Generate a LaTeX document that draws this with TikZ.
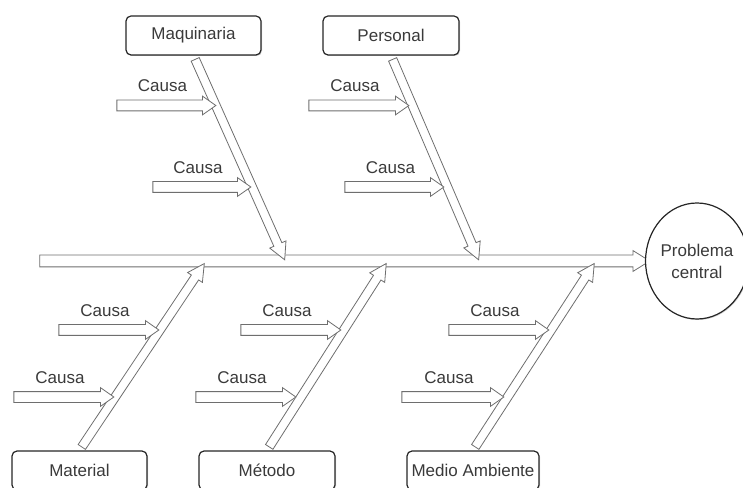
\documentclass[tikz,border=0pt]{standalone}
\usepackage{fontspec}
\setmainfont{Liberation Sans}
\usepackage{tikz}
\usepackage{tkz-euclide}
\usetikzlibrary{calc,shapes.arrows,shapes.geometric,shadows}
\pgfdeclarelayer{bg}
\pgfsetlayers{bg,main}

\definecolor{trazo}{HTML}{6E6E6E}
\definecolor{texto}{HTML}{3A3A3A}

\tikzset{
  flecha/.style={single arrow, draw=trazo, fill=white, line width=0.8pt,
    inner xsep=0pt, inner ysep=5pt, single arrow head extend=4pt,
    single arrow tip angle=70},
  espina/.style={flecha, inner ysep=5.5pt, single arrow head extend=4.5pt,
    single arrow tip angle=64},
  rama/.style={flecha, inner ysep=4pt, single arrow head extend=4.5pt,
    single arrow tip angle=56},
  caja/.style={draw=black!85, line width=1.2pt, rounded corners=5pt,
    fill=white, minimum height=39pt, inner xsep=2pt, text=texto,
    font=\fontsize{17}{20}\selectfont,
    drop shadow={shadow xshift=1pt, shadow yshift=-1pt, opacity=0.35}},
  problema/.style={ellipse, draw=black!85, line width=1.2pt, fill=white,
    minimum width=102pt, minimum height=116pt, inner sep=0pt,
    align=center, text=texto, font=\fontsize{17}{22}\selectfont,
    drop shadow={shadow xshift=1pt, shadow yshift=-1pt, opacity=0.35}},
  etiqueta/.style={text=texto, font=\fontsize{17}{20}\selectfont, inner sep=0pt}
}

\newcommand{\flecha}[3][flecha]{%
  \path let \p1=($(#3)-(#2)$), \n1={atan2(\y1,\x1)}, \n2={veclen(\x1,\y1)} in
    node[#1, minimum height=\n2, rotate=\n1] at ($(#2)!0.5!(#3)$) {};}

\begin{document}
\begin{tikzpicture}[x=1pt,y=1pt]
  \useasboundingbox (0,0) rectangle (743,487);
  \clip (0,0) rectangle (743,487);

  % centros de las cajas y espina
  \tkzDefPoints{193.5/451.5/CM, 391/451.5/CP, 79.5/16.5/CT, 267/16.5/CD, 473/16.5/CE}
  \tkzDefPoints{35/226/S, 697/226/CC}
  \tkzDefPoints{283/231/TM, 477/231/TP, 202/220/BT, 384/220/BD, 592/220/BE}

  % causas arriba
  \tkzDefPoint(113,381.5){M1a}
  \tkzDefPoint(212,381.5){M1b}
  \tkzDefPoint(149,300){M2a}
  \tkzDefPoint(247,300){M2b}
  \tkzDefPoint(305,381.5){P1a}
  \tkzDefPoint(405,381.5){P1b}
  \tkzDefPoint(341,300){P2a}
  \tkzDefPoint(440,300){P2b}

  % causas abajo
  \tkzDefPoint(55,157){T1a}
  \tkzDefPoint(155,157){T1b}
  \tkzDefPoint(10,90){T2a}
  \tkzDefPoint(110,90){T2b}
  \tkzDefPoint(237,157){D1a}
  \tkzDefPoint(337,157){D1b}
  \tkzDefPoint(192,90){D2a}
  \tkzDefPoint(292,90){D2b}
  \tkzDefPoint(445,157){E1a}
  \tkzDefPoint(545,157){E1b}
  \tkzDefPoint(398,90){E2a}
  \tkzDefPoint(500,90){E2b}

  \node[caja, minimum width=135pt] (maq) at (CM) {Maquinaria};
  \node[caja, minimum width=136pt] (per) at (CP) {Personal};
  \node[caja, minimum width=135pt] (mat) at (CT) {Material};
  \node[caja, minimum width=136pt] (met) at (CD) {Método};
  \node[caja, minimum width=132pt] (amb) at (CE) {Medio Ambiente};
  \node[problema] (prob) at (CC) {Problema\\central};

  \begin{pgfonlayer}{bg}
    \flecha[espina]{S}{prob.west}

    \flecha[rama]{maq.south}{TM}
    \flecha[rama]{per.south}{TP}
    \flecha[rama]{mat.north}{BT}
    \flecha[rama]{met.north}{BD}
    \flecha[rama]{amb.north}{BE}

    \flecha{M1a}{M1b}
    \flecha{M2a}{M2b}
    \flecha{P1a}{P1b}
    \flecha{P2a}{P2b}
    \flecha{T1a}{T1b}
    \flecha{T2a}{T2b}
    \flecha{D1a}{D1b}
    \flecha{D2a}{D2b}
    \flecha{E1a}{E1b}
    \flecha{E2a}{E2b}
  \end{pgfonlayer}

  \node[etiqueta] (cM1) at ($(M1a)!0.5!(M1b)+(0,19.5)$) {Causa};
  \node[etiqueta] (cM2) at ($(M2a)!0.5!(M2b)+(0,19.5)$) {Causa};
  \node[etiqueta] (cP1) at ($(P1a)!0.5!(P1b)+(0,19.5)$) {Causa};
  \node[etiqueta] (cP2) at ($(P2a)!0.5!(P2b)+(0,19.5)$) {Causa};
  \node[etiqueta] (cT1) at ($(T1a)!0.5!(T1b)+(0,19.5)$) {Causa};
  \node[etiqueta] (cT2) at ($(T2a)!0.5!(T2b)+(0,19.5)$) {Causa};
  \node[etiqueta] (cD1) at ($(D1a)!0.5!(D1b)+(0,19.5)$) {Causa};
  \node[etiqueta] (cD2) at ($(D2a)!0.5!(D2b)+(0,19.5)$) {Causa};
  \node[etiqueta] (cE1) at ($(E1a)!0.5!(E1b)+(0,19.5)$) {Causa};
  \node[etiqueta] (cE2) at ($(E2a)!0.5!(E2b)+(0,19.5)$) {Causa};
\end{tikzpicture}
\end{document}
